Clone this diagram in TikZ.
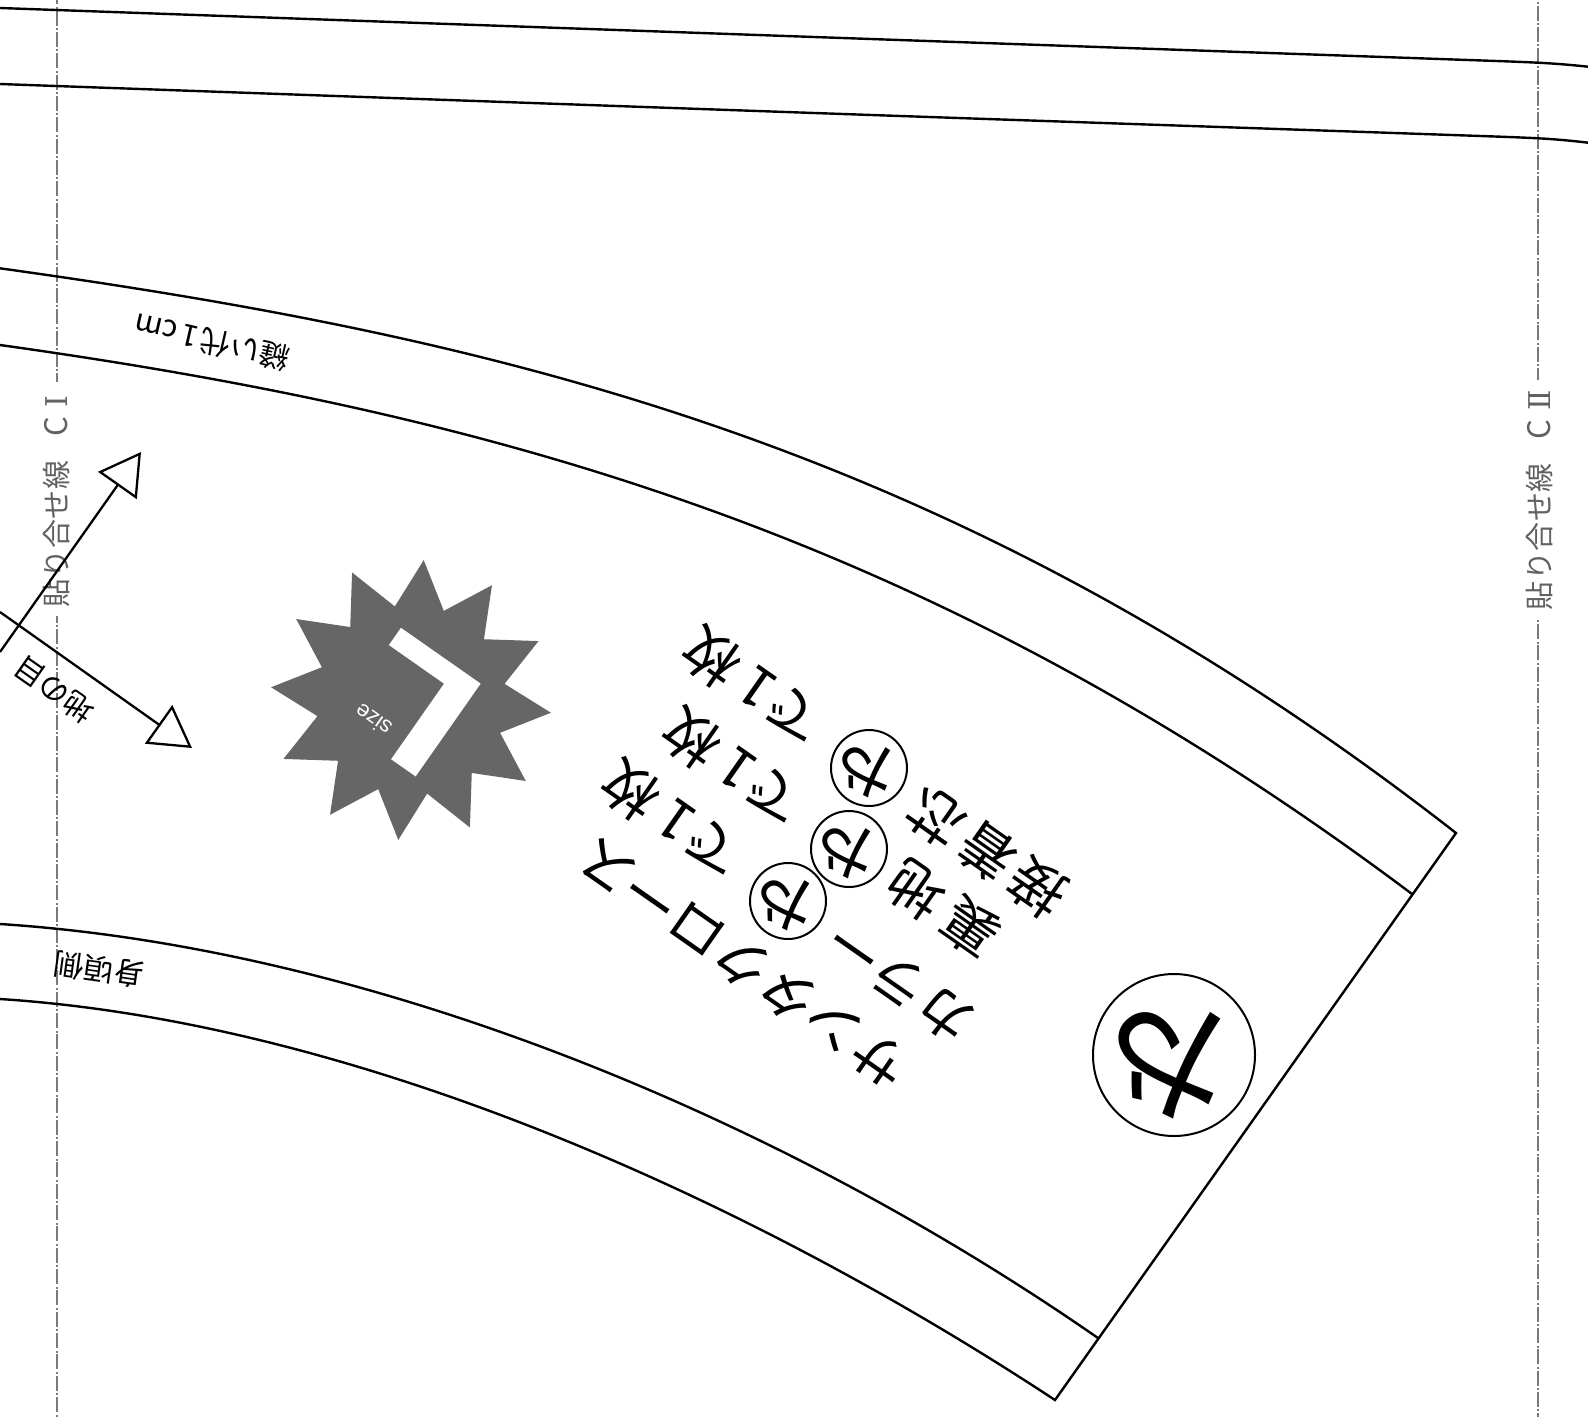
\documentclass[tikz,border=0pt]{standalone}
\usepackage{fontspec}
\setmainfont{Noto Sans CJK JP}
\setsansfont{Liberation Sans}
\newfontfamily\romfont{DejaVu Serif}
\newfontfamily\heavyfont[FakeBold=2]{Liberation Sans Bold}
\usetikzlibrary{positioning,shapes.geometric,arrows.meta}
\newcommand{\fsz}[1]{\fontsize{#1}{#1}\selectfont}
\newcommand{\joinname}{貼\kern.5pt り\kern.5pt 合\kern.5pt せ\kern.5pt 線}

\begin{document}
\begin{tikzpicture}[
  x=1pt,y=-1pt,
  every node/.style={inner sep=0pt},
  cutline/.style={draw=black,line width=2.4pt,line join=miter},
  joinline/.style={draw=black!52,line width=2.8pt,
    dash pattern=on 15pt off 2.5pt on 2pt off 1.83pt},
  joinlabel/.style={rotate=90,fill=white,text=black!62,font=\fsz{29}},
  grainline/.style={draw=black,line width=2.3pt,
    -{Triangle[open,length=41pt,width=47pt,line width=2.3pt]}},
  piecetext/.style={rotate=145,font=\fsz{56}},
  smalltext/.style={font=\fsz{30}},
  fabricmark/.style={circle,draw=black,line width=2pt,minimum size=76pt},
  markglyph/.style={rotate=132,font=\fsz{65}},
]
\useasboundingbox (0,0) rectangle (1588,1417);

\coordinate (ltop) at (57,0);
\coordinate (lbot) at (57,1417);
\coordinate (rtop) at (1538,0);
\coordinate (rbot) at (1538,1417);
\draw[joinline,dash phase=10.7pt] (ltop) -- (lbot);
\draw[joinline,dash phase=15.8pt] (rtop) -- (rbot);
\node[joinlabel] (joinI) at (56,499)
  {\kern8pt\joinname\kern24pt{\fsz{31}C}\kern10pt{\romfont\fsz{30}Ⅰ}\kern13pt};
\node[joinlabel] (joinII) at (1539,499)
  {\kern8pt\joinname\kern24pt{\fsz{31}C}\kern9pt{\romfont\fsz{30}Ⅱ}\kern10pt};

\draw[cutline] plot[smooth,tension=0.5] coordinates
  {(0,8) (800,36.5) (1400,57.6) (1538,62.7) (1588,66.7)};
\draw[cutline] plot[smooth,tension=0.5] coordinates
  {(0,84) (800,112.5) (1400,133.2) (1538,138.3) (1588,142.7)};

\coordinate (outertop) at (1456,833);
\coordinate (innertop) at (1412,894);
\coordinate (innerbot) at (1098,1338);
\coordinate (outerbot) at (1055,1400);
\draw[cutline] (0,268.3) .. controls (500,338) and (956,443) .. (outertop)
  -- (outerbot) .. controls (748,1198) and (355,1022) .. (0,999);
\draw[cutline] (0,345) .. controls (485,413) and (927,530) .. (innertop);
\draw[cutline] (0,924) .. controls (370,948) and (778,1116) .. (innerbot);

\coordinate (grainA) at (0,652);
\coordinate (grainB) at (0,612);
\coordinate (grainAtip) at (141,452);
\coordinate (grainBtip) at (192,748);
\draw[grainline] (grainA) -- (grainAtip);
\draw[grainline] (grainB) -- (grainBtip);
\node[smalltext,rotate=145] (grainlabel) at (54,690) {地の目};
\node[smalltext,rotate=167] (seamlabel) at (212,342) {縫い代\kern3pt 1\kern5pt cm};
\node[smalltext,rotate=172] (bodylabel) at (99,970) {身頃側};

\node[star,star points=12,star point ratio=1.48,shape border rotate=84.8,
  minimum size=281pt,fill=black!60] (sizestar) at (411,700) {};
\node[rotate=145,text=white,font=\heavyfont\fsz{160}] (sizeL) at (411,704)
  {\scalebox{1.14}[1]{L}};
\node[rotate=145,text=white,font=\sffamily\fsz{22}] (sizename) at (373,720) {size};

\node[piecetext] (santa) at (743,964) {サンタクロース};
\node[piecetext] (collar) at (900,982) {カラー};
\node[piecetext] (lining) at (943,909) {裏\kern10pt 地};
\node[piecetext] (interlining) at (987,852) {接\kern6pt 着\kern6pt 芯};
\foreach \mk/\px/\py in {a/788/901,b/849/849,c/869/768}{
  \node[fabricmark] (mark\mk) at (\px,\py) {};
  \node[markglyph] (glyph\mk) at (mark\mk) {や};
  \node[piecetext] (count\mk) at (\px-116,\py-81) {で\kern3pt 1\kern11pt 枚};
}
\node[fabricmark,minimum size=162pt] (bigmark) at (1174,1055) {};
\node[markglyph,font=\fsz{138}] (bigglyph) at (bigmark) {や};
\end{tikzpicture}
\end{document}
